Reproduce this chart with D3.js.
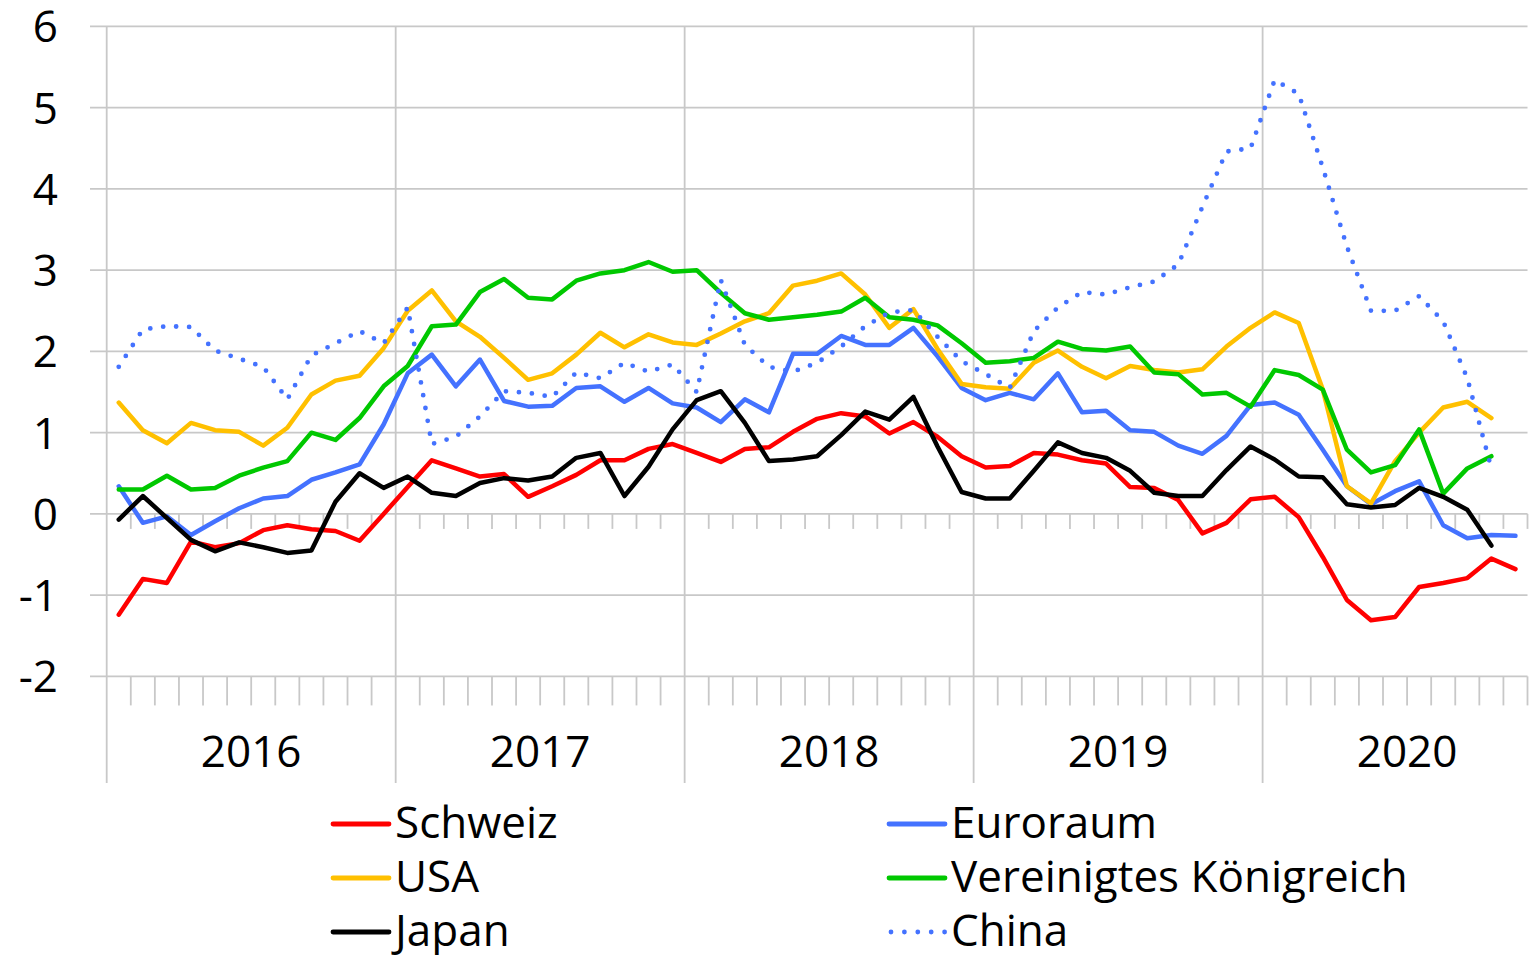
<!DOCTYPE html>
<html>
<head>
<meta charset="utf-8">
<script src="https://cdn.jsdelivr.net/npm/d3@7"></script>
<style>
  html, body { margin: 0; padding: 0; background: #fff; }
  svg { display: block; }
  text { font-family: "Open Sans", sans-serif; fill: #000; }
</style>
</head>
<body>
<svg id="chart" width="1529" height="955"></svg>
<script>
// Inflation rates in % (Jan 2016 – Nov 2020), monthly
const years = [2016, 2017, 2018, 2019, 2020];
const months = years
  .flatMap(yr => d3.range(1, 13).map(m => `${yr}-${String(m).padStart(2, "0")}`))
  .slice(0, 59);
const yTicks = [-2, -1, 0, 1, 2, 3, 4, 5, 6];

const schweiz = [-1.24, -0.80, -0.85, -0.34, -0.41, -0.36, -0.20, -0.14, -0.19, -0.21, -0.33, 0.00,
  0.33, 0.66, 0.56, 0.46, 0.49, 0.21, 0.34, 0.48, 0.66, 0.66, 0.80, 0.86,
  0.75, 0.64, 0.80, 0.82, 1.01, 1.17, 1.24, 1.20, 0.99, 1.13, 0.95, 0.71,
  0.57, 0.59, 0.75, 0.73, 0.66, 0.62, 0.33, 0.32, 0.17, -0.24, -0.11, 0.18,
  0.21, -0.04, -0.53, -1.06, -1.31, -1.27, -0.90, -0.85, -0.79, -0.55, -0.68];

const euroraum = [0.34, -0.11, -0.03, -0.26, -0.09, 0.07, 0.19, 0.22, 0.42, 0.51, 0.61, 1.10,
  1.73, 1.96, 1.57, 1.90, 1.39, 1.32, 1.33, 1.55, 1.57, 1.38, 1.55, 1.36,
  1.31, 1.13, 1.41, 1.25, 1.97, 1.97, 2.19, 2.08, 2.08, 2.29, 1.94, 1.55,
  1.40, 1.49, 1.41, 1.73, 1.25, 1.27, 1.03, 1.01, 0.84, 0.74, 0.96, 1.34,
  1.37, 1.22, 0.79, 0.34, 0.12, 0.28, 0.40, -0.14, -0.30, -0.26, -0.27];

const usa = [1.37, 1.03, 0.87, 1.12, 1.03, 1.01, 0.84, 1.06, 1.47, 1.64, 1.70, 2.04,
  2.50, 2.75, 2.37, 2.18, 1.92, 1.65, 1.73, 1.96, 2.23, 2.05, 2.21, 2.11,
  2.08, 2.22, 2.37, 2.47, 2.81, 2.87, 2.96, 2.70, 2.29, 2.52, 2.03, 1.60,
  1.56, 1.54, 1.86, 2.01, 1.81, 1.67, 1.82, 1.77, 1.74, 1.78, 2.06, 2.29,
  2.48, 2.35, 1.53, 0.34, 0.13, 0.65, 1.00, 1.31, 1.38, 1.18];

const vereinigtesKoenigreich = [0.30, 0.30, 0.47, 0.30, 0.32, 0.47, 0.57, 0.65, 1.00, 0.91, 1.18, 1.57,
  1.82, 2.31, 2.33, 2.73, 2.89, 2.66, 2.64, 2.87, 2.96, 3.00, 3.10, 2.98,
  3.00, 2.72, 2.47, 2.39, 2.42, 2.45, 2.49, 2.66, 2.42, 2.39, 2.32, 2.10,
  1.86, 1.88, 1.92, 2.12, 2.03, 2.01, 2.06, 1.74, 1.72, 1.47, 1.49, 1.32,
  1.77, 1.71, 1.53, 0.79, 0.51, 0.60, 1.04, 0.25, 0.56, 0.71];

const japan = [-0.07, 0.22, -0.05, -0.32, -0.46, -0.35, -0.41, -0.48, -0.45, 0.15, 0.50, 0.32,
  0.46, 0.26, 0.22, 0.38, 0.44, 0.41, 0.46, 0.69, 0.75, 0.22, 0.58, 1.04,
  1.40, 1.51, 1.12, 0.65, 0.67, 0.71, 0.97, 1.26, 1.16, 1.44, 0.83, 0.27,
  0.19, 0.19, 0.53, 0.88, 0.75, 0.69, 0.53, 0.26, 0.22, 0.22, 0.54, 0.83,
  0.67, 0.46, 0.45, 0.12, 0.08, 0.11, 0.32, 0.21, 0.05, -0.39];

const china = [1.81, 2.27, 2.31, 2.30, 2.01, 1.91, 1.81, 1.41, 1.95, 2.10, 2.25, 2.10,
  2.54, 0.86, 0.95, 1.20, 1.51, 1.49, 1.44, 1.74, 1.67, 1.86, 1.75, 1.84,
  1.50, 2.88, 2.08, 1.81, 1.75, 1.86, 2.06, 2.31, 2.48, 2.51, 2.18, 1.88,
  1.72, 1.55, 2.25, 2.54, 2.73, 2.70, 2.79, 2.86, 3.07, 3.78, 4.46, 4.50,
  5.34, 5.17, 4.26, 3.29, 2.50, 2.50, 2.68, 2.37, 1.67, 0.56];

const series = [
  { name: "Schweiz", values: schweiz, color: "#ff0000", dotted: false },
  { name: "Euroraum", values: euroraum, color: "#4472ff", dotted: false },
  { name: "USA", values: usa, color: "#ffc000", dotted: false },
  { name: "Vereinigtes Königreich", values: vereinigtesKoenigreich, color: "#00c800", dotted: false },
  { name: "Japan", values: japan, color: "#000000", dotted: false },
  { name: "China", values: china, color: "#4472ff", dotted: true }
];

const svg = d3.select("#chart");
const plotLeft = 106.7, plotRight = 1527.5, plotTop = 26.4, plotBottom = 676.4;

const x = d3.scaleBand().domain(months).range([plotLeft, plotRight]);
const y = d3.scaleLinear().domain([-2, 6]).range([plotBottom, plotTop]);
const gridColor = "#c8c8c8";

// horizontal gridlines
svg.append("g").selectAll("line").data(yTicks).join("line")
  .attr("x1", 90).attr("x2", plotRight)
  .attr("y1", d => y(d)).attr("y2", d => y(d))
  .attr("stroke", gridColor).attr("stroke-width", 1.8);

// month boundaries: small ticks under the zero line and under the bottom line
const boundaries = d3.range(1, months.length + 1).filter(i => i % 12 !== 0);
const bx = i => plotLeft + i * x.step();
const ticks = svg.append("g").attr("stroke", gridColor).attr("stroke-width", 1.8);
ticks.selectAll(".zt").data(boundaries).join("line").attr("class", "zt")
  .attr("x1", bx).attr("x2", bx).attr("y1", y(0)).attr("y2", y(0) + 15);
ticks.selectAll(".bt").data(boundaries).join("line").attr("class", "bt")
  .attr("x1", bx).attr("x2", bx).attr("y1", plotBottom).attr("y2", plotBottom + 29);

// year separators
svg.append("g").selectAll("line").data(years).join("line")
  .attr("x1", (d, i) => bx(i * 12)).attr("x2", (d, i) => bx(i * 12))
  .attr("y1", plotTop).attr("y2", 783)
  .attr("stroke", gridColor).attr("stroke-width", 1.8);

// y labels
svg.append("g").selectAll("text").data(yTicks).join("text")
  .attr("x", 58).attr("y", d => y(d) - 1)
  .attr("text-anchor", "end").attr("dominant-baseline", "central")
  .attr("font-size", 44)
  .text(d => d);

// year labels
svg.append("g").selectAll("text").data(years).join("text")
  .attr("x", (d, i) => bx(i * 12) + 6 * x.step())
  .attr("y", 767)
  .attr("text-anchor", "middle")
  .attr("font-size", 44)
  .text(d => d);

// series lines
const line = d3.line()
  .defined(d => d.v != null)
  .x(d => x(d.m) + x.bandwidth() / 2)
  .y(d => y(d.v));

svg.append("g").selectAll("path").data(series).join("path")
  .attr("d", s => line(s.values.map((v, i) => ({ m: months[i], v }))))
  .attr("fill", "none")
  .attr("stroke", s => s.color)
  .attr("stroke-width", s => s.dotted ? 4.8 : 4.5)
  .attr("stroke-linejoin", "round")
  .attr("stroke-linecap", "round")
  .attr("stroke-dasharray", s => s.dotted ? "0 13" : null);

// legend
const legendPos = [
  [333, 824], [889, 824],
  [333, 878], [889, 878],
  [333, 932], [889, 932]
];
const legendOrder = ["Schweiz", "Euroraum", "USA", "Vereinigtes Königreich", "Japan", "China"];
const lg = svg.append("g").selectAll("g")
  .data(legendOrder.map((n, i) => ({ s: series.find(s => s.name === n), p: legendPos[i] })))
  .join("g").attr("transform", d => `translate(${d.p[0]},${d.p[1]})`);
lg.append("line")
  .attr("x1", d => d.s.dotted ? 2 : 0).attr("x2", 56)
  .attr("y1", 0).attr("y2", 0)
  .attr("stroke", d => d.s.color)
  .attr("stroke-width", d => d.s.dotted ? 4.8 : 4.8)
  .attr("stroke-linecap", "round")
  .attr("stroke-dasharray", d => d.s.dotted ? "0 13.4" : null);
lg.append("text")
  .attr("x", 62).attr("y", -3)
  .attr("dominant-baseline", "central")
  .attr("font-size", 44)
  .text(d => d.s.name);
</script>
</body>
</html>
